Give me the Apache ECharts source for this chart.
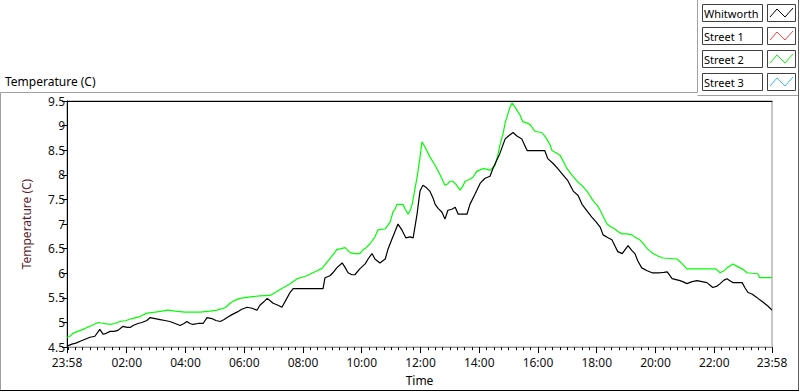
<!DOCTYPE html>
<html>
<head>
<meta charset="utf-8">
<title>Temperature (C)</title>
<script src="https://cdn.jsdelivr.net/npm/echarts@6/dist/echarts.min.js"></script>
<style>
    html, body { margin: 0; padding: 0; background: #fff; }
    #chart { width: 800px; height: 392px; }
</style>
</head>
<body>
<div id="chart"></div>
<script>
// minutes elapsed since the 23:58 start of the record
var whitworthMin = [0, 10, 18, 27, 37, 47, 57, 67, 74, 80, 88, 96, 104, 114, 123, 129, 135, 145, 153, 163,
    170, 180, 190, 200, 210, 221, 231, 239, 245, 251, 257, 268, 278, 286, 296, 304, 313, 321, 327, 337,
    347, 357, 368, 378, 388, 394, 402, 409, 415, 421, 431, 439, 449, 455, 462, 476, 496, 517, 523, 527,
    537, 543, 551, 562, 568, 574, 582, 588, 598, 609, 615, 623, 629, 639, 650, 656, 664, 670, 676, 684,
    692, 701, 707, 715, 721, 727, 733, 741, 748, 752, 758, 766, 772, 778, 786, 793, 799, 807, 817, 823,
    833, 844, 854, 864, 870, 878, 884, 895, 903, 911, 919, 929, 940, 950, 962, 976, 982, 993, 1003, 1013,
    1023, 1034, 1044, 1052, 1062, 1072, 1081, 1089, 1095, 1105, 1113, 1119, 1125, 1134, 1140, 1146, 1154, 1160, 1166, 1174,
    1185, 1195, 1203, 1211, 1219, 1226, 1236, 1244, 1252, 1260, 1266, 1277, 1287, 1297, 1307, 1319, 1328, 1334, 1342, 1348,
    1354, 1360, 1371, 1379, 1385, 1391, 1399, 1409, 1415, 1422, 1432, 1440];
var whitworthTemp = [4.52, 4.56, 4.58, 4.62, 4.66, 4.70, 4.72, 4.86, 4.76, 4.78, 4.82, 4.82, 4.84, 4.92, 4.90, 4.90, 4.94, 4.98, 5.00, 5.04,
    5.10, 5.08, 5.06, 5.04, 5.02, 4.98, 4.94, 4.98, 5.02, 4.98, 4.96, 4.98, 4.98, 5.10, 5.08, 5.04, 5.02, 5.06, 5.10, 5.16,
    5.21, 5.27, 5.31, 5.29, 5.25, 5.35, 5.42, 5.49, 5.44, 5.39, 5.35, 5.31, 5.49, 5.60, 5.69, 5.69, 5.69, 5.69, 5.69, 5.91,
    5.95, 6.01, 6.11, 6.21, 6.12, 6.01, 5.97, 5.97, 6.09, 6.19, 6.29, 6.40, 6.29, 6.21, 6.29, 6.50, 6.70, 6.85, 7.00, 6.88,
    6.72, 6.74, 6.72, 7.20, 7.67, 7.79, 7.75, 7.67, 7.52, 7.40, 7.32, 7.24, 7.10, 7.28, 7.30, 7.34, 7.20, 7.20, 7.20, 7.40,
    7.60, 7.83, 7.93, 7.97, 8.13, 8.30, 8.43, 8.73, 8.80, 8.86, 8.79, 8.73, 8.49, 8.49, 8.49, 8.49, 8.33, 8.23, 8.12, 8.00,
    7.88, 7.67, 7.58, 7.40, 7.27, 7.14, 7.04, 6.94, 6.78, 6.72, 6.68, 6.56, 6.44, 6.40, 6.48, 6.56, 6.46, 6.40, 6.25, 6.11,
    6.05, 6.01, 6.01, 6.01, 6.02, 6.03, 5.89, 5.87, 5.85, 5.82, 5.79, 5.83, 5.85, 5.83, 5.81, 5.71, 5.74, 5.79, 5.86, 5.89,
    5.85, 5.81, 5.81, 5.81, 5.70, 5.61, 5.58, 5.51, 5.46, 5.41, 5.33, 5.25];

var street2Min = [0, 6, 12, 22, 33, 41, 51, 63, 76, 88, 98, 108, 121, 133, 149, 163, 180, 194, 206, 221,
    241, 272, 292, 306, 323, 333, 343, 353, 374, 394, 415, 427, 439, 455, 470, 480, 490, 500, 511, 521,
    529, 537, 545, 551, 560, 568, 578, 588, 598, 605, 611, 619, 629, 635, 641, 650, 660, 666, 670, 674,
    680, 686, 692, 697, 701, 705, 711, 715, 721, 725, 731, 741, 752, 762, 772, 778, 782, 788, 795, 803,
    809, 813, 821, 829, 837, 844, 850, 858, 864, 874, 880, 884, 891, 895, 901, 905, 909, 915, 921, 925,
    931, 940, 946, 956, 970, 980, 987, 991, 999, 1007, 1015, 1021, 1031, 1042, 1052, 1062, 1068, 1074, 1083, 1089,
    1097, 1103, 1111, 1119, 1125, 1134, 1144, 1154, 1162, 1170, 1179, 1185, 1191, 1197, 1207, 1217, 1232, 1246, 1256, 1266,
    1279, 1293, 1309, 1324, 1330, 1334, 1342, 1348, 1354, 1360, 1369, 1379, 1389, 1399, 1411, 1415, 1428, 1440];
var street2Temp = [4.70, 4.72, 4.78, 4.82, 4.86, 4.90, 4.94, 5.00, 4.98, 4.96, 4.98, 5.02, 5.04, 5.08, 5.12, 5.19, 5.21, 5.23, 5.25, 5.23,
    5.21, 5.21, 5.23, 5.25, 5.30, 5.39, 5.45, 5.49, 5.52, 5.54, 5.55, 5.62, 5.69, 5.78, 5.89, 5.92, 5.95, 6.00, 6.05, 6.10,
    6.20, 6.30, 6.40, 6.48, 6.50, 6.52, 6.42, 6.40, 6.40, 6.48, 6.52, 6.60, 6.74, 6.88, 6.89, 6.90, 7.04, 7.25, 7.30, 7.40,
    7.40, 7.40, 7.28, 7.20, 7.28, 7.40, 7.73, 7.95, 8.35, 8.67, 8.57, 8.37, 8.19, 8.00, 7.79, 7.82, 7.87, 7.87, 7.80, 7.69,
    7.78, 7.87, 7.90, 7.95, 8.07, 8.10, 8.13, 8.11, 8.09, 8.19, 8.40, 8.59, 8.85, 9.06, 9.25, 9.38, 9.46, 9.38, 9.28, 9.22,
    9.08, 9.05, 9.02, 8.88, 8.86, 8.73, 8.60, 8.49, 8.45, 8.40, 8.25, 8.13, 8.00, 7.87, 7.78, 7.67, 7.58, 7.48, 7.38, 7.28,
    7.12, 7.00, 6.94, 6.90, 6.85, 6.80, 6.80, 6.78, 6.72, 6.68, 6.58, 6.50, 6.45, 6.40, 6.35, 6.31, 6.30, 6.29, 6.20, 6.09,
    6.09, 6.09, 6.09, 6.09, 6.05, 6.01, 6.05, 6.11, 6.15, 6.19, 6.14, 6.09, 6.01, 6.00, 5.99, 5.91, 5.91, 5.91];

// Street 1 and Street 3 carry no readings in this record
var street1Min = [];
var street1Temp = [];
var street3Min = [];
var street3Temp = [];

var seriesNames = ['Whitworth', 'Street 1', 'Street 2', 'Street 3'];
var seriesColors = ['#000000', '#ff4040', '#00ff00', '#3cb8f0'];

// labelled ticks: start, every two hours, end (minutes since start)
var labelMin = [0, 122, 242, 362, 482, 602, 722, 842, 962, 1082, 1202, 1322, 1440];
var yMin = 4.5, yMax = 9.5, yStep = 0.5;

var minorMin = [];
for (var m = 2; m < 1440; m += 15) minorMin.push(m);

function pairs(xs, ys) {
    return xs.map(function (x, i) { return [x, ys[i]]; });
}
function clock(v) {
    var t = (v + 1438) % 1440;
    var h = Math.floor(t / 60), mm = t % 60;
    return (h < 10 ? '0' : '') + h + ':' + (mm < 10 ? '0' : '') + mm;
}

var font = '"Noto Sans", "Liberation Sans", sans-serif';
var seriesData = [
    pairs(whitworthMin, whitworthTemp),
    pairs(street1Min, street1Temp),
    pairs(street2Min, street2Temp),
    pairs(street3Min, street3Temp)
];

// legend drawn as LabVIEW-style boxes on the right
var legendGraphic = [];
seriesNames.forEach(function (name, i) {
    var top = 4 + i * 23;
    legendGraphic.push({
        type: 'rect', shape: { x: 702.5, y: top + 0.5, width: 60, height: 17 },
        style: { fill: '#fff', stroke: '#404040', lineWidth: 1 }
    });
    legendGraphic.push({
        type: 'text', x: 704, y: top + 9,
        style: { text: name, fill: '#000', font: '11px ' + font, verticalAlign: 'middle' }
    });
    legendGraphic.push({
        type: 'rect', shape: { x: 767.5, y: top + 0.5, width: 28, height: 17 },
        style: { fill: '#fff', stroke: '#404040', lineWidth: 1 }
    });
    legendGraphic.push({
        type: 'polyline',
        shape: { points: [[770, top + 13], [777, top + 5], [785, top + 13], [793, top + 4]] },
        style: { stroke: seriesColors[i], lineWidth: 1, fill: null }
    });
});

var frameGraphic = [
    { type: 'polyline', shape: { points: [[0.5, 391], [0.5, 92.5], [697.5, 92.5], [697.5, 0]] },
      style: { stroke: '#a0a0a0', lineWidth: 1, fill: null } },
    { type: 'line', shape: { x1: 697.5, y1: 95.5, x2: 798, y2: 95.5 },
      style: { stroke: '#a0a0a0', lineWidth: 1 } },
    { type: 'line', shape: { x1: 798.5, y1: 0, x2: 798.5, y2: 391 },
      style: { stroke: '#606060', lineWidth: 1 } },
    { type: 'line', shape: { x1: 0, y1: 390.5, x2: 799, y2: 390.5 },
      style: { stroke: '#000', lineWidth: 1 } },
    { type: 'text', x: 5, y: 81,
      style: { text: 'Temperature (C)', fill: '#000', font: '12px ' + font, verticalAlign: 'middle' } }
];

var chart = echarts.init(document.getElementById('chart'), null, { renderer: 'svg' });
chart.setOption({
    animation: false,
    backgroundColor: '#fff',
    textStyle: { fontFamily: font },
    grid: {
        left: 67, top: 101, right: 28, bottom: 39,
        show: true, borderColor: '#909090', borderWidth: 1, backgroundColor: '#fff'
    },
    xAxis: [
        {
            type: 'value', min: 0, max: 1440, position: 'bottom',
            name: 'Time', nameLocation: 'middle', nameGap: 24,
            nameTextStyle: { color: '#000', fontSize: 12, lineHeight: 13 },
            axisLine: { show: true, lineStyle: { color: '#909090' } },
            axisTick: { show: true, length: 3, customValues: minorMin, lineStyle: { color: '#000' } },
            axisLabel: {
                customValues: labelMin, margin: 9, color: '#111', fontSize: 12, lineHeight: 13,
                formatter: clock
            },
            splitLine: { show: false }
        },
        {
            type: 'value', min: 0, max: 1440, position: 'bottom',
            axisLine: { show: false },
            axisTick: { show: true, length: 6, customValues: labelMin, lineStyle: { color: '#000', width: 1 } },
            axisLabel: { show: false },
            splitLine: { show: false }
        },
        {
            type: 'value', min: 0, max: 1440, position: 'top',
            axisLine: { show: true, onZero: false, lineStyle: { color: '#000' } },
            axisTick: { show: false },
            axisLabel: { show: false },
            splitLine: { show: false }
        }
    ],
    yAxis: {
        type: 'value', min: yMin, max: yMax, interval: yStep,
        name: 'Temperature (C)', nameLocation: 'middle', nameGap: 35, nameRotate: 90,
        nameTextStyle: { color: '#5a1e2e', fontSize: 12 },
        axisLine: { show: true, lineStyle: { color: '#000' } },
        axisTick: { show: true, length: 5, lineStyle: { color: '#000' } },
        axisLabel: { margin: 2, color: '#111', fontSize: 12, lineHeight: 12 },
        splitLine: { show: false }
    },
    series: seriesNames.map(function (name, i) {
        return {
            name: name, type: 'line', xAxisIndex: 0,
            data: seriesData[i],
            showSymbol: false, symbol: 'none',
            lineStyle: { color: seriesColors[i], width: 1.2 },
            itemStyle: { color: seriesColors[i] },
            z: i === 0 ? 3 : 2
        };
    }),
    graphic: frameGraphic.concat(legendGraphic)
});
</script>
</body>
</html>
